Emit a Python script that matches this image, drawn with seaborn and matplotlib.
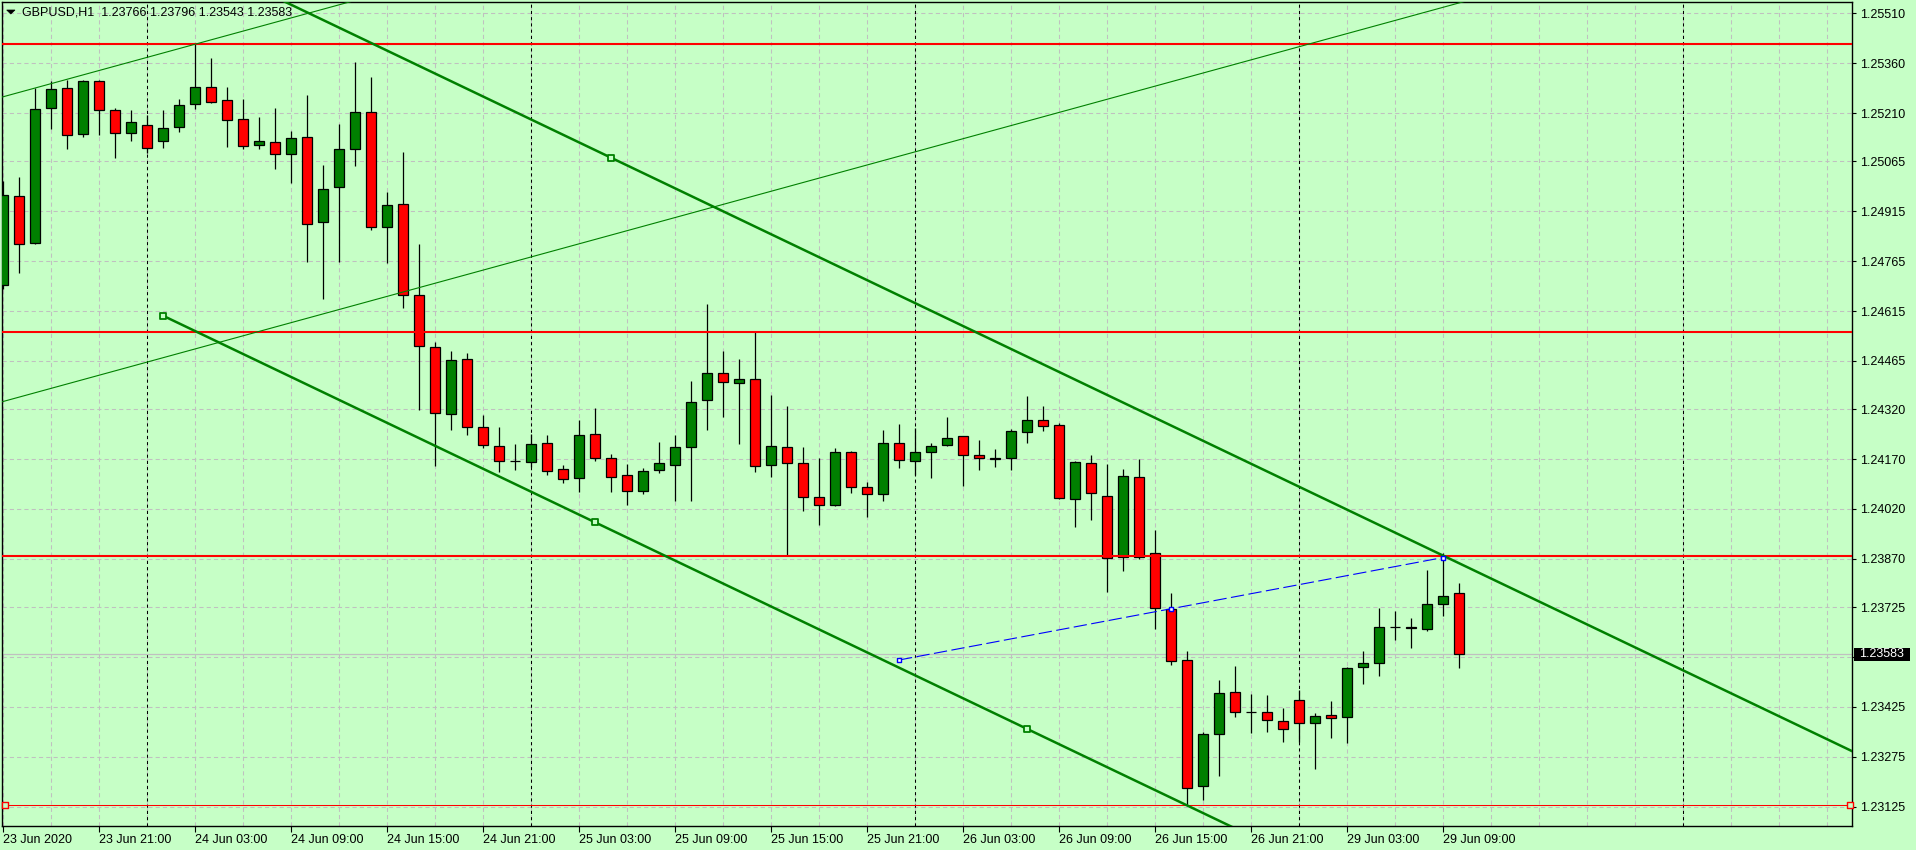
import matplotlib
matplotlib.use("Agg")
import matplotlib.pyplot as plt
import matplotlib.transforms as mtransforms
from matplotlib.patches import Polygon, Rectangle
from matplotlib.ticker import MultipleLocator, FixedLocator
import numpy as np
import pandas as pd
import seaborn as sns

SYMBOL = "GBPUSD,H1"

# hourly candles, 23 Jun 2020 15:00 -> 29 Jun 2020 10:00 (weekend skipped)
OPEN = [1.24693, 1.24961, 1.24819, 1.25224, 1.25285, 1.25146, 1.25306, 1.25218,
        1.25149, 1.25173, 1.25125, 1.25167, 1.25236, 1.25288, 1.25248, 1.25191,
        1.25113, 1.25122, 1.25086, 1.25137, 1.24882, 1.24987, 1.25101, 1.25213,
        1.24867, 1.24936, 1.24662, 1.24506, 1.24305, 1.24470, 1.24266, 1.24208,
        1.24163, 1.24160, 1.24217, 1.24139, 1.24112, 1.24245, 1.24172, 1.24121,
        1.24073, 1.24136, 1.24151, 1.24205, 1.24347, 1.24428, 1.24398, 1.24410,
        1.24151, 1.24205, 1.24157, 1.24055, 1.24031, 1.24190, 1.24085, 1.24064,
        1.24217, 1.24163, 1.24190, 1.24211, 1.24238, 1.24181, 1.24169, 1.24172,
        1.24251, 1.24287, 1.24272, 1.24049, 1.24157, 1.24058, 1.23875, 1.24115,
        1.23887, 1.23718, 1.23565, 1.23188, 1.23343, 1.23469, 1.23409, 1.23409,
        1.23382, 1.23445, 1.23376, 1.23400, 1.23394, 1.23544, 1.23556, 1.23664,
        1.23661, 1.23658, 1.23733, 1.23766]
HIGH = [1.25006, 1.25019, 1.25285, 1.25306, 1.25310, 1.25310, 1.25310, 1.25224,
        1.25219, 1.25204, 1.25219, 1.25252, 1.25417, 1.25375, 1.25288, 1.25252,
        1.25198, 1.25224, 1.25156, 1.25264, 1.25054, 1.25177, 1.25364, 1.25319,
        1.24973, 1.25093, 1.24817, 1.24522, 1.24495, 1.24489, 1.24303, 1.24266,
        1.24215, 1.24245, 1.24242, 1.24151, 1.24288, 1.24323, 1.24185, 1.24155,
        1.24142, 1.24221, 1.24242, 1.24405, 1.24636, 1.24495, 1.24471, 1.24554,
        1.24363, 1.24330, 1.24205, 1.24172, 1.24202, 1.24193, 1.24100, 1.24257,
        1.24275, 1.24263, 1.24217, 1.24297, 1.24239, 1.24226, 1.24199, 1.24260,
        1.24360, 1.24330, 1.24278, 1.24163, 1.24181, 1.24154, 1.24139, 1.24169,
        1.23956, 1.23767, 1.23592, 1.23349, 1.23506, 1.23548, 1.23463, 1.23460,
        1.23421, 1.23475, 1.23407, 1.23442, 1.23544, 1.23592, 1.23722, 1.23712,
        1.23691, 1.23836, 1.23887, 1.23796]
LOW = [1.24680, 1.24728, 1.24817, 1.25162, 1.25103, 1.25139, 1.25144, 1.25076,
       1.25127, 1.25089, 1.25106, 1.25154, 1.25223, 1.25241, 1.25109, 1.25101,
       1.25103, 1.25043, 1.25001, 1.24762, 1.24650, 1.24762, 1.25052, 1.24859,
       1.24759, 1.24625, 1.24318, 1.24150, 1.24258, 1.24243, 1.24202, 1.24132,
       1.24138, 1.24145, 1.24121, 1.24097, 1.24070, 1.24163, 1.24070, 1.24031,
       1.24064, 1.24127, 1.24043, 1.24043, 1.24257, 1.24296, 1.24214, 1.24130,
       1.24117, 1.23878, 1.24013, 1.23971, 1.24029, 1.24069, 1.23997, 1.24045,
       1.24144, 1.24122, 1.24114, 1.24208, 1.24090, 1.24138, 1.24147, 1.24137,
       1.24219, 1.24255, 1.24049, 1.23967, 1.23988, 1.23770, 1.23835, 1.23869,
       1.23658, 1.23550, 1.23130, 1.23145, 1.23218, 1.23394, 1.23346, 1.23349,
       1.23319, 1.23319, 1.23238, 1.23331, 1.23316, 1.23493, 1.23517, 1.23625,
       1.23601, 1.23652, 1.23697, 1.23543]
CLOSE = [1.24964, 1.24816, 1.25221, 1.25282, 1.25143, 1.25306, 1.25218, 1.25149,
         1.25182, 1.25104, 1.25164, 1.25233, 1.25288, 1.25244, 1.25188, 1.25110,
         1.25125, 1.25086, 1.25134, 1.24877, 1.24981, 1.25101, 1.25213, 1.24867,
         1.24934, 1.24662, 1.24509, 1.24308, 1.24468, 1.24266, 1.24211, 1.24163,
         1.24164, 1.24214, 1.24133, 1.24109, 1.24241, 1.24172, 1.24115, 1.24073,
         1.24133, 1.24157, 1.24205, 1.24341, 1.24428, 1.24401, 1.24410, 1.24148,
         1.24208, 1.24157, 1.24055, 1.24031, 1.24190, 1.24085, 1.24064, 1.24217,
         1.24166, 1.24190, 1.24208, 1.24232, 1.24181, 1.24172, 1.24172, 1.24254,
         1.24287, 1.24269, 1.24052, 1.24160, 1.24067, 1.23872, 1.24118, 1.23875,
         1.23722, 1.23562, 1.23180, 1.23343, 1.23466, 1.23409, 1.23409, 1.23385,
         1.23358, 1.23376, 1.23397, 1.23391, 1.23541, 1.23556, 1.23664, 1.23664,
         1.23664, 1.23733, 1.23757, 1.23583]

Y_TICKS = [1.25510, 1.25360, 1.25210, 1.25065, 1.24915, 1.24765, 1.24615, 1.24465,
           1.24320, 1.24170, 1.24020, 1.23870, 1.23725, 1.23575, 1.23425, 1.23275,
           1.23125]

# horizontal levels
RED_LEVELS = [1.25417, 1.24553, 1.23880]
RED_THIN = 1.23129

# trend objects as (bar, price) anchors
CHANNEL_BASE = [(10, 1.24601), (64, 1.23359)]   # lower thick line
CHANNEL_PAR = (38, 1.25076)                      # parallel upper thick line
THIN_BASE = [(0, 1.25259), (12, 1.25417)]        # upper thin line
THIN_PAR = (12, 1.24501)                         # parallel lower thin line
BLUE_LINE = [(56, 1.23566), (90, 1.23874)]

BG = "#C6FFC6"
UP = "#008000"
DOWN = "#FF0000"
GRID = "#C0C0C0"
W, H = 1916, 850


def line_through(p, slope, x0, x1):
    xs = np.array([x0, x1], dtype=float)
    return xs, p[1] + slope * (xs - p[0])


def main():
    sns.set_theme(style="ticks")
    plt.rcParams["font.family"] = ["Liberation Sans", "DejaVu Sans"]
    plt.rcParams["font.size"] = 9

    times = list(pd.date_range("2020-06-23 15:00", "2020-06-26 23:00", freq="h")) + \
        list(pd.date_range("2020-06-29 00:00", "2020-06-29 10:00", freq="h"))
    df = pd.DataFrame({"time": times, "open": OPEN, "high": HIGH,
                       "low": LOW, "close": CLOSE})
    df["bar"] = np.arange(len(df))
    df["up"] = df["close"] >= df["open"]

    fig = plt.figure(figsize=(W / 100, H / 100), dpi=100, facecolor=BG)
    ax = fig.add_axes([2 / W, 24 / H, 1850 / W, 824 / H], facecolor=BG)
    ax.set_xlim(-0.0625, 115.5625)
    ax.set_ylim(1.23067, 1.25544)

    # grid
    ax.xaxis.set_minor_locator(MultipleLocator(3))
    ax.grid(True, which="both", axis="x", color=GRID, lw=0.75,
            linestyle=(0, (4, 3)), zorder=0)
    ax.grid(True, which="major", axis="y", color=GRID, lw=0.75,
            linestyle=(0, (4, 3)), zorder=0)
    ax.set_axisbelow(True)

    # day separators
    seps = list(df.loc[df["time"].dt.hour == 0, "bar"])
    seps.append(seps[-1] + 24)
    for s in seps:
        ax.axvline(s, color="black", lw=0.75, linestyle=(0, (3, 3)), zorder=1)

    # current price line
    last = df.iloc[-1]
    ax.axhline(last["close"], color="#C0C0C0", lw=0.9, zorder=1.5)

    # candles
    ax.vlines(df["bar"], df["low"], df["high"], color="black", lw=0.9, zorder=3)
    bottom = np.minimum(df["open"], df["close"])
    height = (df["close"] - df["open"]).abs()
    colors = np.where(df["up"], UP, DOWN)
    ax.bar(df["bar"], height, bottom=bottom, width=0.62, color=colors,
           edgecolor="black", linewidth=0.9, zorder=4)

    # horizontal levels
    for lv in RED_LEVELS:
        ax.axhline(lv, color=DOWN, lw=1.5, zorder=5)
    ax.axhline(RED_THIN, color=DOWN, lw=0.75, zorder=5)
    xl = ax.get_xlim()
    sns.scatterplot(x=[xl[0] + 0.2, xl[1] - 0.15], y=[RED_THIN, RED_THIN], ax=ax,
                    marker="s", s=14, color=BG, edgecolor=DOWN, linewidth=1,
                    zorder=6, clip_on=False, legend=False)

    # thick channel
    (bx0, by0), (bx1, by1) = CHANNEL_BASE
    slope = (by1 - by0) / (bx1 - bx0)
    xs, ys = line_through(CHANNEL_BASE[0], slope, bx0, 140)
    sns.lineplot(x=xs, y=ys, ax=ax, color=UP, lw=1.8, zorder=6, legend=False)
    xs, ys = line_through(CHANNEL_PAR, slope, -10, 140)
    sns.lineplot(x=xs, y=ys, ax=ax, color=UP, lw=1.8, zorder=6, legend=False)
    mid = (bx0 + bx1) / 2
    pts_x = [bx0, mid, bx1, CHANNEL_PAR[0]]
    pts_y = [by0, by0 + slope * (mid - bx0), by1, CHANNEL_PAR[1]]
    sns.scatterplot(x=pts_x, y=pts_y, ax=ax, marker="s", s=14, color=BG,
                    edgecolor=UP, linewidth=1.3, zorder=7, legend=False)

    # thin channel
    (tx0, ty0), (tx1, ty1) = THIN_BASE
    tslope = (ty1 - ty0) / (tx1 - tx0)
    xs, ys = line_through(THIN_BASE[0], tslope, -10, 140)
    sns.lineplot(x=xs, y=ys, ax=ax, color=UP, lw=0.8, zorder=6, legend=False)
    xs, ys = line_through(THIN_PAR, tslope, -10, 140)
    sns.lineplot(x=xs, y=ys, ax=ax, color=UP, lw=0.8, zorder=6, legend=False)

    # blue dashed line
    (ux0, uy0), (ux1, uy1) = BLUE_LINE
    ax.plot([ux0, ux1], [uy0, uy1], color="#0000FF", lw=0.8,
            linestyle=(0, (12, 4)), zorder=6)
    ax.scatter([ux0, (ux0 + ux1) / 2, ux1], [uy0, (uy0 + uy1) / 2, uy1],
               marker="s", s=12, color="white", edgecolor="#0000FF",
               linewidth=1, zorder=7)

    # axes / ticks
    for sp in ax.spines.values():
        sp.set_visible(True)
        sp.set_color("black")
        sp.set_linewidth(1.0)
    ax.yaxis.tick_right()
    ax.yaxis.set_major_locator(FixedLocator(Y_TICKS))
    ylabels = [f"{v:.5f}" for v in Y_TICKS]
    ylabels[Y_TICKS.index(1.23575)] = ""
    ax.set_yticklabels(ylabels)
    tick_bars = list(range(0, len(df), 6))
    ax.xaxis.set_major_locator(FixedLocator(tick_bars))
    xlabels = [df["time"][0].strftime("%d %b %Y")] + \
        [df["time"][b].strftime("%d %b %H:%M") for b in tick_bars[1:]]
    ax.set_xticklabels(xlabels)
    for lbl in ax.get_xticklabels():
        lbl.set_horizontalalignment("left")
    ax.tick_params(axis="x", which="major", direction="out", length=4,
                   width=0.8, pad=2, labelsize=9, colors="black")
    ax.tick_params(axis="y", which="major", direction="out", length=3,
                   width=0.8, pad=3, labelsize=9, colors="black")
    ax.tick_params(which="minor", length=0)
    ax.set_xlabel("")
    ax.set_ylabel("")

    # last price box
    blend = mtransforms.blended_transform_factory(ax.transAxes, ax.transData)
    ppx = (ax.get_ylim()[1] - ax.get_ylim()[0]) / 824
    ax.add_patch(Rectangle((1 + 2 / 1850, last["close"] - 6.7 * ppx), 56 / 1850,
                           13.4 * ppx, transform=blend, facecolor="black",
                           edgecolor="none", clip_on=False, zorder=10))
    ax.text(1 + 7 / 1850, last["close"], f"{last['close']:.5f}", transform=blend,
            color="white", fontsize=9, va="center", ha="left", zorder=11)

    # header
    fig.patches.append(Polygon([(6.7 / W, 1 - 10 / H), (15 / W, 1 - 10 / H),
                                (10.8 / W, 1 - 14 / H)], closed=True,
                               transform=fig.transFigure, facecolor="black",
                               edgecolor="black", lw=0.5))
    header = f"{SYMBOL}  {last['open']:.5f} {last['high']:.5f} " \
             f"{last['low']:.5f} {last['close']:.5f}"
    fig.text(21.7 / W, 1 - 12.5 / H, header, fontsize=9, color="black",
             ha="left", va="center")

    fig.savefig("out.png", dpi=100, facecolor=BG)
    plt.close(fig)


if __name__ == "__main__":
    main()
